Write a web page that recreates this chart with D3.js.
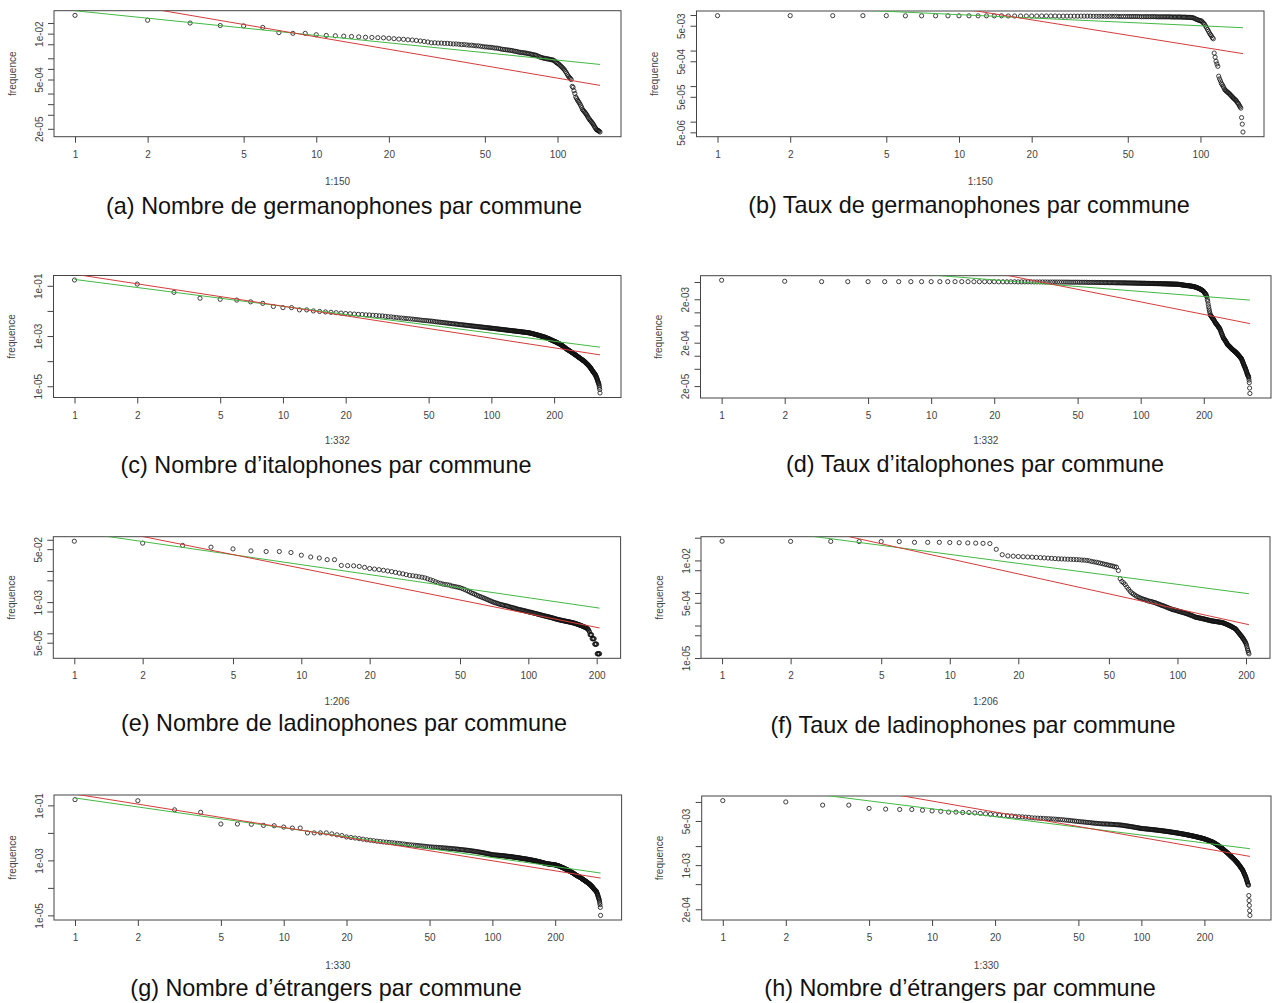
<!DOCTYPE html>
<html>
<head>
<meta charset="utf-8">
<script src="https://cdn.jsdelivr.net/npm/d3@7"></script>
<style>
body { margin: 0; background: #fff; }
</style>
</head>
<body>
<svg id="chart" width="1272" height="1003"></svg>
<script>
// frequence by rank (1:N)
const freqA = [
3.3e-2,2.4e-2,2.0e-2,1.7e-2,1.66e-2,1.5e-2,1.07e-2,1.02e-2,1.02e-2,9.3e-3,
8.9e-3,8.7e-3,8.5e-3,8.3e-3,8.1e-3,7.9e-3,7.8e-3,7.7e-3,7.6e-3,7.4e-3,
7.2e-3,7.0e-3,6.9e-3,6.7e-3,6.6e-3,6.4e-3,6.2e-3,6.0e-3,5.8e-3,5.5e-3,
5.5e-3,5.4e-3,5.4e-3,5.3e-3,5.3e-3,5.2e-3,5.1e-3,5.1e-3,5.0e-3,4.9e-3,
4.9e-3,4.8e-3,4.7e-3,4.7e-3,4.6e-3,4.5e-3,4.5e-3,4.4e-3,4.3e-3,4.2e-3,
4.2e-3,4.1e-3,4.1e-3,4.0e-3,3.9e-3,3.9e-3,3.8e-3,3.7e-3,3.6e-3,3.55e-3,
3.5e-3,3.45e-3,3.4e-3,3.35e-3,3.3e-3,3.2e-3,3.15e-3,3.1e-3,3.0e-3,2.95e-3,
2.9e-3,2.88e-3,2.85e-3,2.8e-3,2.75e-3,2.7e-3,2.65e-3,2.6e-3,2.55e-3,2.5e-3,
2.45e-3,2.4e-3,2.3e-3,2.2e-3,2.15e-3,2.1e-3,2.05e-3,2.0e-3,1.98e-3,1.95e-3,
1.92e-3,1.9e-3,1.86e-3,1.83e-3,1.8e-3,1.78e-3,1.7e-3,1.6e-3,1.5e-3,1.45e-3,
1.38e-3,1.3e-3,1.22e-3,1.15e-3,1.07e-3,1.0e-3,9.3e-4,8.4e-4,7.6e-4,6.8e-4,
6.2e-4,5.7e-4,5.4e-4,5.0e-4,3.2e-4,3.0e-4,2.4e-4,2.0e-4,1.6e-4,1.45e-4,
1.3e-4,1.2e-4,1.1e-4,1.0e-4,9e-5,8e-5,7e-5,6.6e-5,6.2e-5,5.8e-5,
5.4e-5,5.0e-5,4.6e-5,4.2e-5,3.9e-5,3.6e-5,3.4e-5,3.2e-5,3.0e-5,2.8e-5,
2.6e-5,2.4e-5,2.2e-5,2.05e-5,1.9e-5,1.85e-5,1.8e-5,1.75e-5,1.7e-5,1.62e-5]

const freqB = [
9.6e-3,9.6e-3,9.6e-3,9.6e-3,9.6e-3,9.5e-3,9.5e-3,9.5e-3,9.5e-3,9.5e-3,
9.5e-3,9.5e-3,9.5e-3,9.5e-3,9.5e-3,9.4e-3,9.4e-3,9.4e-3,9.4e-3,9.4e-3,
9.4e-3,9.4e-3,9.4e-3,9.4e-3,9.4e-3,9.3e-3,9.3e-3,9.3e-3,9.3e-3,9.3e-3,
9.3e-3,9.3e-3,9.3e-3,9.3e-3,9.3e-3,9.2e-3,9.2e-3,9.2e-3,9.2e-3,9.2e-3,
9.2e-3,9.2e-3,9.2e-3,9.2e-3,9.2e-3,9.1e-3,9.1e-3,9.1e-3,9.1e-3,9.1e-3,
9.1e-3,9.1e-3,9.1e-3,9.1e-3,9.1e-3,9.0e-3,9.0e-3,9.0e-3,9.0e-3,9.0e-3,
9.0e-3,9.0e-3,9.0e-3,9.0e-3,9.0e-3,8.9e-3,8.9e-3,8.9e-3,8.9e-3,8.9e-3,
8.9e-3,8.9e-3,8.9e-3,8.9e-3,8.9e-3,8.8e-3,8.8e-3,8.8e-3,8.8e-3,8.8e-3,
8.8e-3,8.8e-3,8.8e-3,8.7e-3,8.7e-3,8.7e-3,8.7e-3,8.6e-3,8.6e-3,8.6e-3,
8.5e-3,8.5e-3,8.4e-3,8.2e-3,7.9e-3,7.6e-3,7.4e-3,7.2e-3,7.0e-3,6.9e-3,
6.8e-3,6.3e-3,5.9e-3,5.5e-3,4.9e-3,4.4e-3,3.9e-3,3.5e-3,3.1e-3,2.8e-3,
2.6e-3,2.3e-3,2.15e-3,8.5e-4,6.5e-4,5.0e-4,4.2e-4,3.6e-4,1.9e-4,1.6e-4,
1.4e-4,1.2e-4,1.1e-4,1.0e-4,9e-5,8e-5,7.6e-5,7.2e-5,6.9e-5,6.6e-5,
6.3e-5,6.0e-5,5.7e-5,5.4e-5,5.1e-5,4.8e-5,4.6e-5,4.4e-5,4.2e-5,4.0e-5,
3.8e-5,3.5e-5,3.3e-5,3.1e-5,2.8e-5,2.6e-5,2.4e-5,1.3e-5,8.5e-6,5.1e-6]

const freqC = [
1.7e-1,1.17e-1,5.5e-2,3.2e-2,2.9e-2,2.7e-2,2.3e-2,2.0e-2,1.5e-2,1.35e-2,
1.35e-2,1.1e-2,1.1e-2,1.0e-2,9.5e-3,9.1e-3,8.8e-3,8.5e-3,8.2e-3,7.9e-3,
7.7e-3,7.5e-3,7.3e-3,7.2e-3,7.0e-3,6.9e-3,6.7e-3,6.6e-3,6.4e-3,6.3e-3,
6.1e-3,5.9e-3,5.8e-3,5.6e-3,5.5e-3,5.3e-3,5.2e-3,5.1e-3,5.0e-3,4.9e-3,
4.8e-3,4.7e-3,4.6e-3,4.5e-3,4.4e-3,4.3e-3,4.2e-3,4.15e-3,4.1e-3,4.0e-3,
3.95e-3,3.9e-3,3.8e-3,3.72e-3,3.65e-3,3.6e-3,3.54e-3,3.48e-3,3.42e-3,3.36e-3,
3.31e-3,3.26e-3,3.2e-3,3.15e-3,3.1e-3,3.06e-3,3.02e-3,2.98e-3,2.93e-3,2.89e-3,
2.85e-3,2.81e-3,2.78e-3,2.74e-3,2.7e-3,2.67e-3,2.64e-3,2.6e-3,2.57e-3,2.54e-3,
2.51e-3,2.48e-3,2.45e-3,2.42e-3,2.4e-3,2.37e-3,2.34e-3,2.32e-3,2.29e-3,2.27e-3,
2.25e-3,2.22e-3,2.2e-3,2.17e-3,2.15e-3,2.13e-3,2.11e-3,2.09e-3,2.07e-3,2.05e-3,
2.03e-3,2.01e-3,1.99e-3,1.97e-3,1.95e-3,1.93e-3,1.92e-3,1.9e-3,1.88e-3,1.86e-3,
1.84e-3,1.83e-3,1.81e-3,1.8e-3,1.78e-3,1.77e-3,1.75e-3,1.74e-3,1.72e-3,1.7e-3,
1.69e-3,1.68e-3,1.66e-3,1.65e-3,1.64e-3,1.63e-3,1.61e-3,1.6e-3,1.59e-3,1.58e-3,
1.57e-3,1.55e-3,1.54e-3,1.53e-3,1.52e-3,1.51e-3,1.5e-3,1.49e-3,1.48e-3,1.46e-3,
1.45e-3,1.44e-3,1.43e-3,1.42e-3,1.41e-3,1.4e-3,1.39e-3,1.38e-3,1.37e-3,1.36e-3,
1.35e-3,1.33e-3,1.32e-3,1.3e-3,1.29e-3,1.27e-3,1.26e-3,1.24e-3,1.22e-3,1.2e-3,
1.18e-3,1.17e-3,1.15e-3,1.14e-3,1.12e-3,1.11e-3,1.09e-3,1.08e-3,1.06e-3,1.05e-3,
1.03e-3,1.02e-3,1.0e-3,9.9e-4,9.7e-4,9.6e-4,9.4e-4,9.3e-4,9.2e-4,9.1e-4,
8.9e-4,8.8e-4,8.6e-4,8.5e-4,8.3e-4,8.2e-4,8.0e-4,7.9e-4,7.7e-4,7.6e-4,
7.4e-4,7.3e-4,7.1e-4,7.0e-4,6.8e-4,6.7e-4,6.6e-4,6.5e-4,6.3e-4,6.2e-4,
6.1e-4,6.0e-4,5.9e-4,5.8e-4,5.6e-4,5.5e-4,5.4e-4,5.3e-4,5.2e-4,5.1e-4,
5.0e-4,4.9e-4,4.8e-4,4.7e-4,4.6e-4,4.5e-4,4.4e-4,4.3e-4,4.1e-4,4.0e-4,
3.9e-4,3.8e-4,3.7e-4,3.6e-4,3.5e-4,3.4e-4,3.3e-4,3.2e-4,3.1e-4,3.0e-4,
2.95e-4,2.9e-4,2.8e-4,2.75e-4,2.7e-4,2.65e-4,2.6e-4,2.5e-4,2.45e-4,2.4e-4,
2.35e-4,2.3e-4,2.25e-4,2.2e-4,2.15e-4,2.1e-4,2.05e-4,2.0e-4,1.95e-4,1.9e-4,
1.86e-4,1.82e-4,1.78e-4,1.74e-4,1.7e-4,1.66e-4,1.62e-4,1.58e-4,1.54e-4,1.5e-4,
1.47e-4,1.44e-4,1.41e-4,1.38e-4,1.35e-4,1.32e-4,1.29e-4,1.26e-4,1.23e-4,1.2e-4,
1.18e-4,1.15e-4,1.12e-4,1.1e-4,1.08e-4,1.05e-4,1.03e-4,1.01e-4,9.9e-5,9.7e-5,
9.4e-5,9.1e-5,8.9e-5,8.6e-5,8.3e-5,8.1e-5,7.9e-5,7.7e-5,7.5e-5,7.3e-5,
7.1e-5,6.9e-5,6.6e-5,6.4e-5,6.2e-5,6.0e-5,5.8e-5,5.6e-5,5.4e-5,5.2e-5,
5.0e-5,4.8e-5,4.6e-5,4.4e-5,4.2e-5,4.0e-5,3.9e-5,3.8e-5,3.6e-5,3.5e-5,
3.4e-5,3.3e-5,3.1e-5,3.0e-5,2.9e-5,2.8e-5,2.6e-5,2.5e-5,2.3e-5,2.2e-5,
2.0e-5,1.9e-5,1.75e-5,1.6e-5,1.5e-5,1.4e-5,1.3e-5,1.2e-5,1.05e-5,9e-6,7.5e-6,5.4e-6]

const freqD = [
5.5e-3,5.2e-3,5.1e-3,5.1e-3,5.1e-3,5.1e-3,5.1e-3,5.1e-3,5.1e-3,5.1e-3,
5.1e-3,5.1e-3,5.1e-3,5.1e-3,5.1e-3,5.08e-3,5.08e-3,5.08e-3,5.08e-3,5.08e-3,
5.06e-3,5.06e-3,5.06e-3,5.06e-3,5.06e-3,5.04e-3,5.04e-3,5.04e-3,5.04e-3,5.04e-3,
5.02e-3,5.02e-3,5.02e-3,5.02e-3,5.02e-3,5.0e-3,5.0e-3,5.0e-3,5.0e-3,5.0e-3,
4.98e-3,4.98e-3,4.98e-3,4.98e-3,4.98e-3,4.95e-3,4.95e-3,4.95e-3,4.95e-3,4.95e-3,
4.93e-3,4.93e-3,4.93e-3,4.93e-3,4.93e-3,4.9e-3,4.9e-3,4.9e-3,4.9e-3,4.9e-3,
4.88e-3,4.88e-3,4.88e-3,4.88e-3,4.88e-3,4.85e-3,4.85e-3,4.85e-3,4.85e-3,4.85e-3,
4.83e-3,4.83e-3,4.83e-3,4.83e-3,4.83e-3,4.8e-3,4.8e-3,4.8e-3,4.8e-3,4.8e-3,
4.78e-3,4.78e-3,4.78e-3,4.78e-3,4.78e-3,4.75e-3,4.75e-3,4.75e-3,4.75e-3,4.75e-3,
4.73e-3,4.73e-3,4.73e-3,4.73e-3,4.73e-3,4.7e-3,4.7e-3,4.7e-3,4.7e-3,4.7e-3,
4.68e-3,4.68e-3,4.68e-3,4.68e-3,4.68e-3,4.65e-3,4.65e-3,4.65e-3,4.65e-3,4.65e-3,
4.63e-3,4.63e-3,4.63e-3,4.63e-3,4.63e-3,4.6e-3,4.6e-3,4.6e-3,4.6e-3,4.6e-3,
4.58e-3,4.58e-3,4.58e-3,4.58e-3,4.58e-3,4.55e-3,4.55e-3,4.55e-3,4.55e-3,4.55e-3,
4.53e-3,4.53e-3,4.53e-3,4.53e-3,4.53e-3,4.5e-3,4.5e-3,4.5e-3,4.5e-3,4.5e-3,
4.48e-3,4.48e-3,4.48e-3,4.48e-3,4.48e-3,4.45e-3,4.45e-3,4.45e-3,4.45e-3,4.45e-3,
4.43e-3,4.41e-3,4.39e-3,4.37e-3,4.35e-3,4.33e-3,4.31e-3,4.29e-3,4.27e-3,4.25e-3,
4.23e-3,4.21e-3,4.19e-3,4.17e-3,4.15e-3,4.14e-3,4.13e-3,4.12e-3,4.11e-3,4.1e-3,
4.08e-3,4.06e-3,4.04e-3,4.02e-3,4.0e-3,3.98e-3,3.96e-3,3.94e-3,3.92e-3,3.9e-3,
3.87e-3,3.84e-3,3.8e-3,3.77e-3,3.73e-3,3.7e-3,3.66e-3,3.62e-3,3.58e-3,3.55e-3,
3.5e-3,3.45e-3,3.4e-3,3.35e-3,3.3e-3,3.25e-3,3.2e-3,3.15e-3,3.08e-3,3.0e-3,
2.9e-3,2.8e-3,2.7e-3,2.65e-3,2.6e-3,2.4e-3,2.3e-3,2.0e-3,1.8e-3,1.55e-3,
1.35e-3,1.2e-3,1.07e-3,9.6e-4,8.7e-4,8.4e-4,8.2e-4,7.9e-4,7.7e-4,7.4e-4,
7.2e-4,7.0e-4,6.8e-4,6.5e-4,6.3e-4,6.0e-4,5.8e-4,5.6e-4,5.5e-4,5.4e-4,
5.2e-4,5.1e-4,4.9e-4,4.8e-4,4.6e-4,4.5e-4,4.4e-4,4.3e-4,4.1e-4,3.9e-4,
3.7e-4,3.5e-4,3.3e-4,3.2e-4,3.0e-4,2.9e-4,2.7e-4,2.6e-4,2.5e-4,2.45e-4,
2.4e-4,2.3e-4,2.25e-4,2.2e-4,2.1e-4,2.05e-4,2.0e-4,1.9e-4,1.85e-4,1.8e-4,
1.77e-4,1.74e-4,1.71e-4,1.68e-4,1.65e-4,1.62e-4,1.59e-4,1.56e-4,1.53e-4,1.5e-4,
1.47e-4,1.44e-4,1.42e-4,1.4e-4,1.38e-4,1.36e-4,1.34e-4,1.32e-4,1.3e-4,1.28e-4,
1.26e-4,1.25e-4,1.23e-4,1.21e-4,1.19e-4,1.17e-4,1.15e-4,1.13e-4,1.11e-4,1.09e-4,
1.07e-4,1.05e-4,1.03e-4,1.01e-4,9.9e-5,9.7e-5,9.5e-5,9.3e-5,9.1e-5,9.0e-5,
8.8e-5,8.7e-5,8.4e-5,8.1e-5,7.8e-5,7.5e-5,7.2e-5,6.9e-5,6.6e-5,6.4e-5,
6.1e-5,5.9e-5,5.7e-5,5.5e-5,5.3e-5,5.1e-5,4.9e-5,4.7e-5,4.5e-5,4.3e-5,
4.1e-5,3.9e-5,3.75e-5,3.6e-5,3.5e-5,3.4e-5,3.3e-5,3.1e-5,2.75e-5,2.4e-5,1.8e-5,1.35e-5]

const freqE = [
9.0e-2,7.8e-2,6.6e-2,5.8e-2,5.1e-2,4.4e-2,4.2e-2,4.2e-2,3.9e-2,3.2e-2,
2.8e-2,2.6e-2,2.3e-2,2.3e-2,1.5e-2,1.48e-2,1.46e-2,1.4e-2,1.3e-2,1.2e-2,
1.15e-2,1.1e-2,1.05e-2,1.0e-2,9.5e-3,9.0e-3,8.5e-3,8.1e-3,7.6e-3,7.2e-3,
7.0e-3,6.8e-3,6.5e-3,6.3e-3,6.0e-3,5.6e-3,5.2e-3,4.9e-3,4.5e-3,4.2e-3,
4.0e-3,3.8e-3,3.7e-3,3.6e-3,3.5e-3,3.3e-3,3.2e-3,3.1e-3,3.0e-3,2.9e-3,
2.75e-3,2.6e-3,2.45e-3,2.3e-3,2.15e-3,2.0e-3,1.9e-3,1.8e-3,1.7e-3,1.6e-3,
1.53e-3,1.46e-3,1.39e-3,1.33e-3,1.27e-3,1.21e-3,1.15e-3,1.1e-3,1.05e-3,1.0e-3,
9.7e-4,9.4e-4,9.1e-4,8.8e-4,8.5e-4,8.3e-4,8.1e-4,7.9e-4,7.75e-4,7.6e-4,
7.4e-4,7.2e-4,7.0e-4,6.8e-4,6.7e-4,6.5e-4,6.4e-4,6.2e-4,6.1e-4,5.9e-4,
5.8e-4,5.7e-4,5.6e-4,5.5e-4,5.4e-4,5.3e-4,5.2e-4,5.1e-4,5.0e-4,4.9e-4,
4.8e-4,4.75e-4,4.7e-4,4.6e-4,4.5e-4,4.4e-4,4.35e-4,4.3e-4,4.2e-4,4.1e-4,
4.05e-4,4.0e-4,3.9e-4,3.85e-4,3.8e-4,3.7e-4,3.65e-4,3.6e-4,3.55e-4,3.5e-4,
3.45e-4,3.4e-4,3.35e-4,3.3e-4,3.25e-4,3.2e-4,3.15e-4,3.1e-4,3.05e-4,3.0e-4,
2.95e-4,2.9e-4,2.85e-4,2.8e-4,2.78e-4,2.75e-4,2.7e-4,2.67e-4,2.64e-4,2.6e-4,
2.58e-4,2.55e-4,2.52e-4,2.5e-4,2.47e-4,2.44e-4,2.42e-4,2.4e-4,2.37e-4,2.35e-4,
2.32e-4,2.3e-4,2.28e-4,2.25e-4,2.22e-4,2.2e-4,2.18e-4,2.15e-4,2.12e-4,2.1e-4,
2.07e-4,2.04e-4,2.0e-4,1.97e-4,1.94e-4,1.91e-4,1.88e-4,1.85e-4,1.82e-4,1.79e-4,
1.76e-4,1.73e-4,1.7e-4,1.67e-4,1.64e-4,1.61e-4,1.58e-4,1.55e-4,1.52e-4,1.5e-4,
1.45e-4,1.4e-4,1.35e-4,1.3e-4,1.2e-4,1.1e-4,9.0e-5,9.0e-5,9.0e-5,9.0e-5,
6.7e-5,6.7e-5,6.7e-5,6.7e-5,6.7e-5,4.5e-5,4.5e-5,4.5e-5,4.5e-5,4.5e-5,
2.2e-5,2.2e-5,2.2e-5,2.2e-5,2.2e-5,2.2e-5]

const freqF = [
3.9e-2,3.85e-2,3.85e-2,3.8e-2,3.8e-2,3.8e-2,3.6e-2,3.6e-2,3.6e-2,3.55e-2,
3.5e-2,3.45e-2,3.4e-2,3.35e-2,3.3e-2,2.2e-2,1.5e-2,1.38e-2,1.35e-2,1.32e-2,
1.3e-2,1.28e-2,1.26e-2,1.24e-2,1.22e-2,1.2e-2,1.18e-2,1.16e-2,1.14e-2,1.12e-2,
1.11e-2,1.1e-2,1.09e-2,1.08e-2,1.07e-2,1.06e-2,1.05e-2,1.03e-2,1.02e-2,1.0e-2,
9.7e-3,9.3e-3,9.0e-3,8.8e-3,8.5e-3,8.2e-3,7.9e-3,7.6e-3,7.4e-3,7.1e-3,
6.9e-3,6.7e-3,6.4e-3,6.2e-3,4.9e-3,2.75e-3,2.25e-3,2.05e-3,1.8e-3,1.5e-3,
1.3e-3,1.12e-3,1.0e-3,9.3e-4,8.6e-4,8.0e-4,7.6e-4,7.2e-4,6.9e-4,6.6e-4,
6.4e-4,6.2e-4,6.0e-4,5.8e-4,5.6e-4,5.5e-4,5.4e-4,5.25e-4,5.1e-4,5.0e-4,
4.8e-4,4.65e-4,4.5e-4,4.35e-4,4.2e-4,4.1e-4,4.0e-4,3.85e-4,3.75e-4,3.6e-4,
3.5e-4,3.4e-4,3.3e-4,3.2e-4,3.1e-4,3.05e-4,3.0e-4,2.95e-4,2.9e-4,2.8e-4,
2.75e-4,2.7e-4,2.65e-4,2.6e-4,2.55e-4,2.5e-4,2.45e-4,2.4e-4,2.35e-4,2.3e-4,
2.25e-4,2.2e-4,2.15e-4,2.1e-4,2.05e-4,2.0e-4,1.95e-4,1.9e-4,1.85e-4,1.8e-4,
1.78e-4,1.76e-4,1.74e-4,1.72e-4,1.7e-4,1.68e-4,1.66e-4,1.64e-4,1.62e-4,1.6e-4,
1.58e-4,1.56e-4,1.54e-4,1.52e-4,1.5e-4,1.48e-4,1.46e-4,1.44e-4,1.42e-4,1.4e-4,
1.39e-4,1.38e-4,1.37e-4,1.36e-4,1.35e-4,1.34e-4,1.33e-4,1.32e-4,1.31e-4,1.3e-4,
1.29e-4,1.28e-4,1.27e-4,1.26e-4,1.25e-4,1.24e-4,1.23e-4,1.22e-4,1.2e-4,1.18e-4,
1.16e-4,1.14e-4,1.12e-4,1.1e-4,1.08e-4,1.06e-4,1.04e-4,1.02e-4,1.0e-4,9.8e-5,
9.6e-5,9.4e-5,9.2e-5,9.0e-5,8.8e-5,8.6e-5,8.4e-5,8.2e-5,8.05e-5,7.9e-5,
7.5e-5,7.1e-5,6.8e-5,6.5e-5,6.2e-5,5.9e-5,5.6e-5,5.4e-5,5.1e-5,4.9e-5,
4.7e-5,4.5e-5,4.2e-5,4.0e-5,3.8e-5,3.6e-5,3.4e-5,3.2e-5,3.0e-5,2.75e-5,
2.5e-5,2.2e-5,1.9e-5,1.7e-5,1.5e-5,1.35e-5]

const freqG = [
1.62e-1,1.48e-1,6.9e-2,5.6e-2,2.1e-2,2.1e-2,2.05e-2,1.87e-2,1.82e-2,1.63e-2,
1.5e-2,1.5e-2,1.0e-2,1.0e-2,1.0e-2,1.0e-2,9.2e-3,8.5e-3,8.0e-3,7.1e-3,
6.8e-3,6.5e-3,6.2e-3,5.9e-3,5.6e-3,5.4e-3,5.2e-3,5.0e-3,4.85e-3,4.7e-3,
4.6e-3,4.5e-3,4.4e-3,4.3e-3,4.2e-3,4.1e-3,4.0e-3,3.9e-3,3.8e-3,3.7e-3,
3.64e-3,3.58e-3,3.52e-3,3.46e-3,3.4e-3,3.34e-3,3.28e-3,3.22e-3,3.16e-3,3.1e-3,
3.07e-3,3.04e-3,3.01e-3,2.98e-3,2.95e-3,2.92e-3,2.89e-3,2.86e-3,2.83e-3,2.8e-3,
2.77e-3,2.74e-3,2.71e-3,2.68e-3,2.65e-3,2.62e-3,2.59e-3,2.56e-3,2.53e-3,2.5e-3,
2.47e-3,2.44e-3,2.41e-3,2.38e-3,2.35e-3,2.32e-3,2.29e-3,2.26e-3,2.23e-3,2.2e-3,
2.17e-3,2.14e-3,2.11e-3,2.08e-3,2.05e-3,2.02e-3,1.99e-3,1.96e-3,1.93e-3,1.9e-3,
1.87e-3,1.84e-3,1.81e-3,1.78e-3,1.75e-3,1.72e-3,1.69e-3,1.66e-3,1.63e-3,1.6e-3,
1.59e-3,1.58e-3,1.57e-3,1.56e-3,1.55e-3,1.54e-3,1.53e-3,1.52e-3,1.51e-3,1.5e-3,
1.49e-3,1.48e-3,1.47e-3,1.46e-3,1.44e-3,1.43e-3,1.42e-3,1.41e-3,1.4e-3,1.39e-3,
1.38e-3,1.37e-3,1.36e-3,1.35e-3,1.33e-3,1.32e-3,1.31e-3,1.3e-3,1.29e-3,1.28e-3,
1.27e-3,1.26e-3,1.25e-3,1.24e-3,1.22e-3,1.21e-3,1.2e-3,1.19e-3,1.18e-3,1.17e-3,
1.16e-3,1.15e-3,1.14e-3,1.13e-3,1.12e-3,1.11e-3,1.1e-3,1.09e-3,1.08e-3,1.07e-3,
1.06e-3,1.05e-3,1.04e-3,1.03e-3,1.02e-3,1.01e-3,1.0e-3,9.9e-4,9.8e-4,9.7e-4,
9.6e-4,9.5e-4,9.4e-4,9.3e-4,9.2e-4,9.1e-4,9.0e-4,8.9e-4,8.8e-4,8.7e-4,
8.6e-4,8.5e-4,8.4e-4,8.3e-4,8.2e-4,8.1e-4,8.0e-4,7.9e-4,7.8e-4,7.7e-4,
7.65e-4,7.6e-4,7.55e-4,7.5e-4,7.45e-4,7.4e-4,7.35e-4,7.3e-4,7.25e-4,7.2e-4,
7.17e-4,7.14e-4,7.11e-4,7.08e-4,7.05e-4,7.02e-4,6.99e-4,6.96e-4,6.93e-4,6.9e-4,
6.8e-4,6.7e-4,6.6e-4,6.55e-4,6.5e-4,6.4e-4,6.35e-4,6.3e-4,6.2e-4,6.1e-4,
6.0e-4,5.9e-4,5.8e-4,5.7e-4,5.6e-4,5.55e-4,5.5e-4,5.4e-4,5.3e-4,5.2e-4,
5.1e-4,5.0e-4,4.95e-4,4.9e-4,4.8e-4,4.7e-4,4.65e-4,4.6e-4,4.5e-4,4.4e-4,
4.3e-4,4.25e-4,4.2e-4,4.1e-4,4.0e-4,3.95e-4,3.9e-4,3.85e-4,3.8e-4,3.7e-4,
3.6e-4,3.55e-4,3.5e-4,3.4e-4,3.35e-4,3.3e-4,3.2e-4,3.15e-4,3.1e-4,3.0e-4,
2.95e-4,2.9e-4,2.85e-4,2.8e-4,2.75e-4,2.7e-4,2.67e-4,2.63e-4,2.59e-4,2.55e-4,
2.5e-4,2.46e-4,2.42e-4,2.38e-4,2.34e-4,2.3e-4,2.25e-4,2.2e-4,2.15e-4,2.1e-4,
2.06e-4,2.02e-4,1.98e-4,1.95e-4,1.92e-4,1.88e-4,1.85e-4,1.81e-4,1.77e-4,1.74e-4,
1.71e-4,1.68e-4,1.65e-4,1.62e-4,1.59e-4,1.55e-4,1.52e-4,1.49e-4,1.46e-4,1.43e-4,
1.4e-4,1.37e-4,1.34e-4,1.31e-4,1.28e-4,1.25e-4,1.22e-4,1.19e-4,1.15e-4,1.12e-4,
1.09e-4,1.06e-4,1.03e-4,1.0e-4,9.7e-5,9.4e-5,9.1e-5,8.8e-5,8.6e-5,8.4e-5,
8.2e-5,8.0e-5,7.8e-5,7.6e-5,7.4e-5,7.0e-5,6.6e-5,6.2e-5,5.8e-5,5.4e-5,
5.0e-5,4.6e-5,4.3e-5,4.0e-5,3.7e-5,3.3e-5,2.9e-5,2.45e-5,1.95e-5,1.0e-5]

const freqH = [
1.05e-2,1.0e-2,8.9e-3,8.9e-3,7.9e-3,7.7e-3,7.6e-3,7.6e-3,7.4e-3,7.2e-3,
7.1e-3,6.9e-3,6.9e-3,6.8e-3,6.8e-3,6.7e-3,6.6e-3,6.5e-3,6.4e-3,6.3e-3,
6.2e-3,6.1e-3,6.05e-3,6.0e-3,5.9e-3,5.85e-3,5.8e-3,5.75e-3,5.7e-3,5.6e-3,
5.57e-3,5.54e-3,5.51e-3,5.48e-3,5.45e-3,5.42e-3,5.39e-3,5.36e-3,5.33e-3,5.3e-3,
5.26e-3,5.22e-3,5.18e-3,5.14e-3,5.1e-3,5.06e-3,5.02e-3,4.98e-3,4.94e-3,4.9e-3,
4.87e-3,4.84e-3,4.81e-3,4.78e-3,4.75e-3,4.72e-3,4.69e-3,4.66e-3,4.63e-3,4.6e-3,
4.58e-3,4.56e-3,4.54e-3,4.52e-3,4.5e-3,4.49e-3,4.48e-3,4.47e-3,4.46e-3,4.45e-3,
4.43e-3,4.42e-3,4.4e-3,4.39e-3,4.37e-3,4.36e-3,4.35e-3,4.33e-3,4.32e-3,4.3e-3,
4.27e-3,4.25e-3,4.22e-3,4.2e-3,4.17e-3,4.15e-3,4.12e-3,4.1e-3,4.07e-3,4.05e-3,
4.02e-3,4.0e-3,3.97e-3,3.95e-3,3.92e-3,3.9e-3,3.87e-3,3.85e-3,3.82e-3,3.8e-3,
3.79e-3,3.78e-3,3.77e-3,3.75e-3,3.74e-3,3.73e-3,3.72e-3,3.71e-3,3.69e-3,3.68e-3,
3.67e-3,3.66e-3,3.65e-3,3.63e-3,3.62e-3,3.61e-3,3.6e-3,3.59e-3,3.57e-3,3.56e-3,
3.55e-3,3.54e-3,3.53e-3,3.51e-3,3.5e-3,3.49e-3,3.48e-3,3.47e-3,3.45e-3,3.44e-3,
3.43e-3,3.42e-3,3.41e-3,3.39e-3,3.38e-3,3.37e-3,3.36e-3,3.35e-3,3.33e-3,3.32e-3,
3.31e-3,3.3e-3,3.29e-3,3.27e-3,3.26e-3,3.25e-3,3.24e-3,3.23e-3,3.21e-3,3.2e-3,
3.19e-3,3.18e-3,3.17e-3,3.15e-3,3.14e-3,3.13e-3,3.12e-3,3.11e-3,3.09e-3,3.08e-3,
3.07e-3,3.06e-3,3.05e-3,3.03e-3,3.02e-3,3.01e-3,3.0e-3,2.99e-3,2.97e-3,2.96e-3,
2.95e-3,2.94e-3,2.93e-3,2.91e-3,2.9e-3,2.89e-3,2.88e-3,2.87e-3,2.85e-3,2.84e-3,
2.83e-3,2.82e-3,2.81e-3,2.79e-3,2.78e-3,2.77e-3,2.76e-3,2.75e-3,2.73e-3,2.72e-3,
2.71e-3,2.7e-3,2.69e-3,2.67e-3,2.66e-3,2.65e-3,2.64e-3,2.63e-3,2.61e-3,2.6e-3,
2.58e-3,2.57e-3,2.55e-3,2.54e-3,2.52e-3,2.51e-3,2.49e-3,2.48e-3,2.46e-3,2.45e-3,
2.43e-3,2.42e-3,2.4e-3,2.39e-3,2.37e-3,2.36e-3,2.34e-3,2.33e-3,2.31e-3,2.3e-3,
2.28e-3,2.26e-3,2.24e-3,2.22e-3,2.2e-3,2.18e-3,2.16e-3,2.14e-3,2.12e-3,2.1e-3,
2.08e-3,2.06e-3,2.04e-3,2.02e-3,2.0e-3,1.98e-3,1.96e-3,1.94e-3,1.92e-3,1.9e-3,
1.88e-3,1.86e-3,1.84e-3,1.82e-3,1.8e-3,1.78e-3,1.76e-3,1.74e-3,1.72e-3,1.7e-3,
1.68e-3,1.66e-3,1.65e-3,1.63e-3,1.61e-3,1.59e-3,1.57e-3,1.56e-3,1.54e-3,1.52e-3,
1.5e-3,1.48e-3,1.47e-3,1.45e-3,1.43e-3,1.41e-3,1.39e-3,1.38e-3,1.36e-3,1.35e-3,
1.33e-3,1.32e-3,1.3e-3,1.29e-3,1.27e-3,1.26e-3,1.24e-3,1.23e-3,1.21e-3,1.2e-3,
1.18e-3,1.17e-3,1.15e-3,1.14e-3,1.12e-3,1.11e-3,1.09e-3,1.08e-3,1.06e-3,1.05e-3,
1.03e-3,1.02e-3,1.0e-3,9.9e-4,9.7e-4,9.6e-4,9.4e-4,9.3e-4,9.1e-4,9.0e-4,
8.8e-4,8.7e-4,8.6e-4,8.4e-4,8.3e-4,8.1e-4,7.9e-4,7.7e-4,7.5e-4,7.3e-4,
7.2e-4,7.0e-4,6.8e-4,6.7e-4,6.5e-4,6.3e-4,6.1e-4,5.9e-4,5.7e-4,5.5e-4,
5.4e-4,5.2e-4,5.0e-4,4.9e-4,4.8e-4,3.3e-4,2.75e-4,2.3e-4,1.9e-4,1.6e-4]

// fitted power laws  f = c * rank^-alpha  (green and red)
const greenC = [4.46e-2, 2.11e-2, 0.1795, 1.75e-2, 0.183, 0.128, 0.186, 2.03e-2]
const greenAlpha = [0.70, 0.3135, 1.07, 0.381, 1.061, 0.921, 1.084, 0.416]
const redC = [0.1197, 0.19, 0.29, 0.145, 0.35, 0.39, 0.258, 3.9e-2]
const redAlpha = [1.17, 1.087, 1.274, 0.96, 1.458, 1.541, 1.213, 0.577]

// axis ticks
const xTickValues = [1, 2, 5, 10, 20, 50, 100, 200]
const yTicks = [
  [2e-5, 5e-5, 1e-4, 2e-4, 5e-4, 1e-3, 2e-3, 5e-3, 1e-2, 2e-2],
  [5e-6, 1e-5, 5e-5, 1e-4, 5e-4, 1e-3, 5e-3, 1e-2],
  [1e-5, 1e-4, 1e-3, 1e-2, 1e-1],
  [2e-5, 5e-5, 1e-4, 2e-4, 5e-4, 1e-3, 2e-3, 5e-3],
  [5e-5, 1e-4, 5e-4, 1e-3, 5e-3, 1e-2, 5e-2, 1e-1],
  [1e-5, 5e-5, 1e-4, 5e-4, 1e-3, 5e-3, 1e-2, 5e-2],
  [1e-5, 1e-4, 1e-3, 1e-2, 1e-1],
  [2e-4, 5e-4, 1e-3, 2e-3, 5e-3, 1e-2]
]
const yTickLabels = [
  [2e-5, 5e-4, 1e-2],
  [5e-6, 5e-5, 5e-4, 5e-3],
  [1e-5, 1e-3, 1e-1],
  [2e-5, 2e-4, 2e-3],
  [5e-5, 1e-3, 5e-2],
  [1e-5, 5e-4, 1e-2],
  [1e-5, 1e-3, 1e-1],
  [2e-4, 1e-3, 5e-3]
]

const captions = [
  '(a) Nombre de germanophones par commune',
  '(b) Taux de germanophones par commune',
  '(c) Nombre d\u2019italophones par commune',
  '(d) Taux d\u2019italophones par commune',
  '(e) Nombre de ladinophones par commune',
  '(f) Taux de ladinophones par commune',
  '(g) Nombre d\u2019\u00e9trangers par commune',
  '(h) Nombre d\u2019\u00e9trangers par commune'
]

// layout: plot box [left, right, top, bottom], caption centre, x title y
const boxes = [
  [54, 621, 10.7, 136.7], [696.5, 1264, 11, 136.7],
  [53.5, 621, 275.5, 397.5], [700.5, 1271, 275.7, 398],
  [53.3, 620.6, 536.7, 658.3], [701, 1270, 536.7, 658.3],
  [54, 621.6, 795, 920], [701.7, 1271, 796, 920]
]
const captionPos = [[344, 206], [969, 205], [326, 465], [975, 464], [344, 723], [973, 725], [326, 988], [960, 988]]
const xTitleY = [181, 181, 440, 440, 701, 701, 965, 965]

const freqs = [freqA, freqB, freqC, freqD, freqE, freqF, freqG, freqH]

const svg = d3.select('#chart')
const font = '"Liberation Sans", Arial, Helvetica, sans-serif'
const axisColor = '#444'
const green = '#44b844'
const red = '#d43c3c'

// R style exponent labels, e.g. 5e-04
const sci = v => {
  const parts = v.toExponential(0).split('e')
  const e = +parts[1]
  return parts[0] + 'e' + (e < 0 ? '-' : '+') + String(Math.abs(e)).padStart(2, '0')
}

freqs.forEach((freq, k) => {
  const [x0, x1, y0, y1] = boxes[k]
  const n = freq.length

  const padX = 0.04 * Math.log10(n)
  const xScale = d3.scaleLog()
    .domain([Math.pow(10, -padX), n * Math.pow(10, padX)])
    .range([x0, x1])

  const lo = Math.log10(d3.min(freq))
  const hi = Math.log10(d3.max(freq))
  const padY = 0.04 * (hi - lo)
  const yScale = d3.scaleLog()
    .domain([Math.pow(10, lo - padY), Math.pow(10, hi + padY)])
    .range([y1, y0])

  const g = svg.append('g').attr('class', 'panel')

  g.append('clipPath')
    .attr('id', 'clip' + k)
    .append('rect')
    .attr('x', x0).attr('y', y0)
    .attr('width', x1 - x0).attr('height', y1 - y0)

  // x axis
  const xAxis = d3.axisBottom(xScale)
    .tickValues(xTickValues.filter(v => v <= n))
    .tickFormat(d3.format('d'))
    .tickSize(6)
    .tickPadding(8)
  g.append('g')
    .attr('transform', `translate(0,${y1})`)
    .call(xAxis)
    .attr('font-family', font)
    .attr('font-size', 10)
    .attr('color', axisColor)

  // y axis, labels rotated like R
  const labels = yTickLabels[k]
  const yAxis = d3.axisLeft(yScale)
    .tickValues(yTicks[k])
    .tickFormat(d => labels.includes(d) ? sci(d) : '')
    .tickSize(6)
  const ya = g.append('g')
    .attr('transform', `translate(${x0},0)`)
    .call(yAxis)
    .attr('font-family', font)
    .attr('font-size', 10)
    .attr('color', axisColor)
  ya.selectAll('.tick text')
    .attr('transform', 'rotate(-90)')
    .attr('x', 0)
    .attr('y', -15)
    .attr('dy', '0.35em')
    .style('text-anchor', 'middle')

  g.selectAll('path.domain').remove()

  // box
  g.append('rect')
    .attr('x', x0).attr('y', y0)
    .attr('width', x1 - x0).attr('height', y1 - y0)
    .attr('fill', 'none')
    .attr('stroke', axisColor)
    .attr('stroke-width', 1)

  // points
  g.append('g')
    .selectAll('circle')
    .data(freq)
    .join('circle')
    .attr('cx', (d, i) => xScale(i + 1))
    .attr('cy', d => yScale(d))
    .attr('r', 2.1)
    .attr('fill', 'none')
    .attr('stroke', '#111')
    .attr('stroke-width', 0.8)

  // fitted lines
  const line = d3.line().x(d => xScale(d[0])).y(d => yScale(d[1]))
  const fits = [[greenC[k], greenAlpha[k], green], [redC[k], redAlpha[k], red]]
  fits.forEach(f => {
    g.append('path')
      .attr('clip-path', `url(#clip${k})`)
      .attr('d', line([[1, f[0]], [n, f[0] * Math.pow(n, -f[1])]]))
      .attr('fill', 'none')
      .attr('stroke', f[2])
      .attr('stroke-width', 1)
  })

  // axis titles
  g.append('text')
    .attr('x', (x0 + x1) / 2)
    .attr('y', xTitleY[k])
    .attr('dy', '0.35em')
    .attr('text-anchor', 'middle')
    .attr('font-family', font)
    .attr('font-size', 10)
    .attr('fill', axisColor)
    .text('1:' + n)

  g.append('text')
    .attr('transform', `translate(${x0 - 42},${(y0 + y1) / 2}) rotate(-90)`)
    .attr('dy', '0.35em')
    .attr('text-anchor', 'middle')
    .attr('font-family', font)
    .attr('font-size', 10)
    .attr('fill', axisColor)
    .text('frequence')

  // caption
  g.append('text')
    .attr('x', captionPos[k][0])
    .attr('y', captionPos[k][1])
    .attr('dy', '0.35em')
    .attr('text-anchor', 'middle')
    .attr('font-family', font)
    .attr('font-size', 23.4)
    .attr('fill', '#111')
    .text(captions[k])
})
</script>
</body>
</html>
